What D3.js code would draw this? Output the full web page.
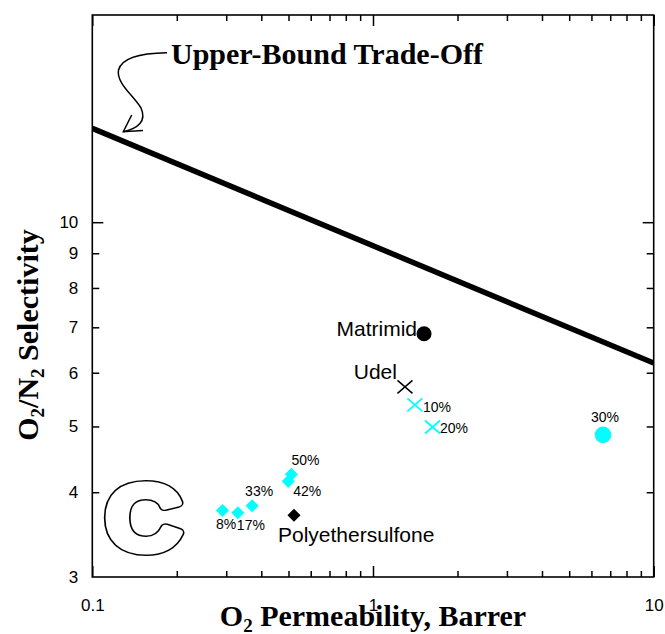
<!DOCTYPE html>
<html>
<head>
<meta charset="utf-8">
<script src="https://cdn.jsdelivr.net/npm/d3@7"></script>
<style>
  html, body { margin: 0; padding: 0; background: #fff; }
  svg { display: block; }
  .lbl { font-family: "Liberation Sans", Arial, sans-serif; fill: #000; }
  .title { font-family: "Liberation Serif", "Times New Roman", serif; font-weight: bold; fill: #000; }
</style>
</head>
<body>
<svg id="chart" width="665" height="634"></svg>
<script>
// O2/N2 permeability-selectivity map (log-log)

// Neat polymers
const neatPolymers = ["Matrimid", "Udel", "Polyethersulfone"];
const neatPermeability = [1.52, 1.30, 0.523];
const neatSelectivity = [6.85, 5.72, 3.70];

// Udel blends (crosses)
const udelBlendLabels = ["10%", "20%"];
const udelBlendPermeability = [1.41, 1.63];
const udelBlendSelectivity = [5.38, 4.99];

// Matrimid blend (circle)
const matrimidBlendLabels = ["30%"];
const matrimidBlendPermeability = [6.6];
const matrimidBlendSelectivity = [4.86];

// Polyethersulfone blends (diamonds)
const pesBlendLabels = ["8%", "17%", "33%", "42%", "50%"];
const pesBlendPermeability = [0.291, 0.330, 0.371, 0.499, 0.512];
const pesBlendSelectivity = [3.76, 3.73, 3.82, 4.15, 4.25];

// Upper-bound trade-off line
const upperBoundPermeability = [0.1, 10];
const upperBoundSelectivity = [13.75, 6.2];

// Axes
const xDomain = [0.1, 10];
const yDomain = [3, 20.2];
const xTickLabels = ["0.1", "1", "10"];
const yTickLabels = ["3", "4", "5", "6", "7", "8", "9", "10"];

const svg = d3.select("#chart");
const plot = { left: 92.3, right: 653.7, top: 15, bottom: 577 };

const x = d3.scaleLog().domain(xDomain).range([plot.left, plot.right]);
const y = d3.scaleLog().domain(yDomain).range([plot.bottom, plot.top]);

const xMajor = xTickLabels.map(Number);
const xMinor = [];
for (let d = 0.1; d < 10; d *= 10) for (let k = 2; k <= 9; k++) xMinor.push(+(d * k).toPrecision(3));
const yMajor = [10];
const yMinor = yTickLabels.map(Number).filter(v => v !== 10 && v !== 3);

const black = "#000";
const cyan = "#00ffff";

// Axis ticks (all pointing inward)
function styleAxis(g) {
  g.select(".domain").remove();
  g.selectAll(".tick line").attr("stroke", black).attr("stroke-width", 1.5);
  g.selectAll(".tick text").attr("class", "lbl").style("font-size", "17px")
    .attr("font-family", null);
}

svg.append("g").attr("transform", `translate(0,${plot.bottom})`)
  .call(d3.axisBottom(x).tickValues(xMinor).tickSize(-6).tickFormat(""))
  .call(styleAxis);
svg.append("g").attr("transform", `translate(0,${plot.bottom})`)
  .call(d3.axisBottom(x).tickValues(xMajor).tickSize(-11).tickPadding(22)
        .tickFormat((d, i) => xTickLabels[i]))
  .call(styleAxis);
svg.append("g").attr("transform", `translate(0,${plot.top})`)
  .call(d3.axisTop(x).tickValues(xMinor).tickSize(-6).tickFormat(""))
  .call(styleAxis);
svg.append("g").attr("transform", `translate(0,${plot.top})`)
  .call(d3.axisTop(x).tickValues(xMajor).tickSize(-11).tickFormat(""))
  .call(styleAxis);

svg.append("g").attr("transform", `translate(${plot.left},0)`)
  .call(d3.axisLeft(y).tickValues(yMinor).tickSize(-7).tickFormat(""))
  .call(styleAxis);
svg.append("g").attr("transform", `translate(${plot.left},0)`)
  .call(d3.axisLeft(y).tickValues(yMajor).tickSize(-11).tickFormat(""))
  .call(styleAxis);
svg.append("g").attr("transform", `translate(${plot.left},0)`)
  .call(d3.axisLeft(y).tickValues(yTickLabels.map(Number)).tickSize(0).tickPadding(14)
        .tickFormat((d, i) => yTickLabels[i]))
  .call(styleAxis);
svg.append("g").attr("transform", `translate(${plot.right},0)`)
  .call(d3.axisRight(y).tickValues(yMinor).tickSize(-7).tickFormat(""))
  .call(styleAxis);
svg.append("g").attr("transform", `translate(${plot.right},0)`)
  .call(d3.axisRight(y).tickValues(yMajor).tickSize(-11).tickFormat(""))
  .call(styleAxis);

// Frame
svg.append("rect")
  .attr("x", plot.left).attr("y", plot.top)
  .attr("width", plot.right - plot.left).attr("height", plot.bottom - plot.top)
  .attr("fill", "none").attr("stroke", black).attr("stroke-width", 1.6);

// Clip for plotted lines
svg.append("clipPath").attr("id", "plotClip").append("rect")
  .attr("x", plot.left).attr("y", plot.top)
  .attr("width", plot.right - plot.left).attr("height", plot.bottom - plot.top);

// Upper bound line
const ubData = upperBoundPermeability.map((p, i) => [p, upperBoundSelectivity[i]]);
svg.append("path")
  .datum(ubData)
  .attr("clip-path", "url(#plotClip)")
  .attr("d", d3.line().x(d => x(d[0])).y(d => y(d[1])))
  .attr("fill", "none").attr("stroke", black).attr("stroke-width", 5.5);

// Annotation for the trade-off line
svg.append("text").attr("class", "title")
  .attr("x", 171).attr("y", 63.5)
  .style("font-size", "30px")
  .text("Upper-Bound Trade-Off");
svg.append("path")
  .attr("d", "M167,52.7 C146,53 122,56 118.5,70 C116,83 134,96 141,108 C147,121 138,128.5 123.3,131.7")
  .attr("fill", "none").attr("stroke", black).attr("stroke-width", 1.5);
svg.append("path")
  .attr("d", "M131.7,115 L123.3,131.7 L143,130.5")
  .attr("fill", "none").attr("stroke", black).attr("stroke-width", 1.5);

// Marker helpers
const diamondPath = d3.symbol().type(d3.symbolSquare).size(86);
function crossPath(hw, hh) {
  return `M${-hw},${-hh}L${hw},${hh}M${-hw},${hh}L${hw},${-hh}`;
}

// Label placement relative to each marker
const labelPlace = {
  "Matrimid": { dx: -7, dy: 2.5, anchor: "end", size: 21 },
  "Udel": { dx: -8, dy: -7.5, anchor: "end", size: 21 },
  "Polyethersulfone": { dx: -16, dy: 26.7, anchor: "start", size: 21 },
  "10%": { dx: 8, dy: 6.7, anchor: "start", size: 14 },
  "20%": { dx: 7.5, dy: 5.7, anchor: "start", size: 14 },
  "30%": { dx: 2, dy: -13.3, anchor: "middle", size: 14 },
  "8%": { dx: -6.5, dy: 19, anchor: "start", size: 14 },
  "17%": { dx: -1, dy: 17.5, anchor: "start", size: 14 },
  "33%": { dx: -7, dy: -10, anchor: "start", size: 14 },
  "42%": { dx: 5, dy: 14.5, anchor: "start", size: 14 },
  "50%": { dx: 0, dy: -9, anchor: "start", size: 14 }
};

function addLabels(names, perm, sel) {
  names.forEach((n, i) => {
    const p = labelPlace[n];
    svg.append("text").attr("class", "lbl")
      .attr("x", x(perm[i]) + p.dx).attr("y", y(sel[i]) + p.dy)
      .attr("text-anchor", p.anchor)
      .style("font-size", p.size + "px")
      .text(n);
  });
}

// Neat polymers
svg.append("circle")
  .attr("cx", x(neatPermeability[0])).attr("cy", y(neatSelectivity[0]))
  .attr("r", 7.5).attr("fill", black);
svg.append("path")
  .attr("transform", `translate(${x(neatPermeability[1])},${y(neatSelectivity[1])})`)
  .attr("d", crossPath(7.5, 6.5)).attr("stroke", black).attr("stroke-width", 1.5).attr("fill", "none");
svg.append("path")
  .attr("transform", `translate(${x(neatPermeability[2])},${y(neatSelectivity[2])}) rotate(45)`)
  .attr("d", diamondPath()).attr("fill", black);
addLabels(neatPolymers, neatPermeability, neatSelectivity);

// Udel blends
svg.selectAll(".udelBlend").data(udelBlendLabels).join("path")
  .attr("transform", (d, i) => `translate(${x(udelBlendPermeability[i])},${y(udelBlendSelectivity[i])})`)
  .attr("d", crossPath(7.5, 6.5)).attr("stroke", cyan).attr("stroke-width", 1.8).attr("fill", "none");
addLabels(udelBlendLabels, udelBlendPermeability, udelBlendSelectivity);

// Matrimid blend
svg.selectAll(".matBlend").data(matrimidBlendLabels).join("circle")
  .attr("cx", (d, i) => x(matrimidBlendPermeability[i]))
  .attr("cy", (d, i) => y(matrimidBlendSelectivity[i]))
  .attr("r", 8.3).attr("fill", cyan);
addLabels(matrimidBlendLabels, matrimidBlendPermeability, matrimidBlendSelectivity);

// Polyethersulfone blends
svg.selectAll(".pesBlend").data(pesBlendLabels).join("path")
  .attr("transform", (d, i) => `translate(${x(pesBlendPermeability[i])},${y(pesBlendSelectivity[i])}) rotate(45)`)
  .attr("d", diamondPath()).attr("fill", cyan);
addLabels(pesBlendLabels, pesBlendPermeability, pesBlendSelectivity);

// Panel letter (outlined)
const panel = svg.append("g").attr("transform", "translate(143.5,549.5) scale(1.15,1)");
panel.append("text").attr("class", "lbl")
  .attr("text-anchor", "middle").style("font-size", "92px").style("font-weight", "bold")
  .attr("fill", black).attr("stroke", black).attr("stroke-width", 10).attr("stroke-linejoin", "round")
  .text("C");
panel.append("text").attr("class", "lbl")
  .attr("text-anchor", "middle").style("font-size", "92px").style("font-weight", "bold")
  .style("fill", "#fff").attr("stroke", "#fff").attr("stroke-width", 7).attr("stroke-linejoin", "round")
  .text("C");

// Axis titles
const xTitle = svg.append("text").attr("class", "title")
  .attr("x", 373).attr("y", 626).attr("text-anchor", "middle")
  .style("font-size", "30px");
xTitle.append("tspan").text("O");
xTitle.append("tspan").attr("dy", 6).style("font-size", "19px").text("2");
xTitle.append("tspan").attr("dy", -6).text(" Permeability, Barrer");

const yTitle = svg.append("text").attr("class", "title")
  .attr("transform", "translate(38,335) rotate(-90)").attr("text-anchor", "middle")
  .style("font-size", "30px");
yTitle.append("tspan").text("O");
yTitle.append("tspan").attr("dy", 6).style("font-size", "19px").text("2");
yTitle.append("tspan").attr("dy", -6).text("/N");
yTitle.append("tspan").attr("dy", 6).style("font-size", "19px").text("2");
yTitle.append("tspan").attr("dy", -6).text(" Selectivity");
</script>
</body>
</html>
